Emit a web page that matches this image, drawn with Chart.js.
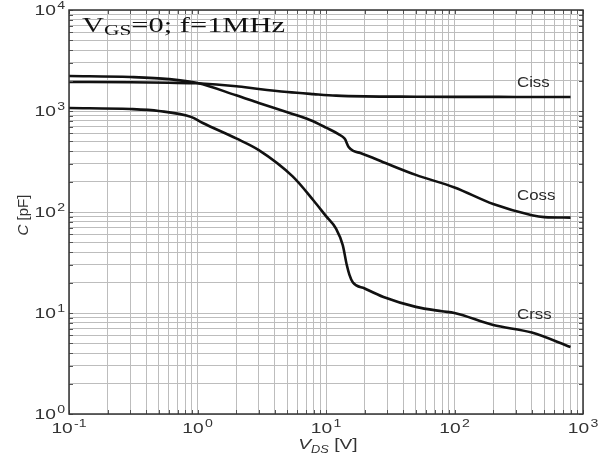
<!DOCTYPE html>
<html>
<head>
<meta charset="utf-8">
<script src="https://cdn.jsdelivr.net/npm/chart.js@4.4.1/dist/chart.umd.min.js"></script>
<style>
  html, body { margin: 0; padding: 0; background: #fff; }
  canvas { display: block; }
</style>
</head>
<body>
<canvas id="capChart" width="599" height="463"></canvas>
<script>
// V_DS sweep points and capacitances (pF)
const vdsCiss = [0.1, 0.3, 0.6, 1, 2, 3, 5, 8, 12, 20, 50, 100, 300, 800];
const ciss = [1940, 1925, 1905, 1880, 1760, 1650, 1540, 1470, 1420, 1395, 1385, 1380, 1378, 1375];

const vdsCoss = [0.1, 0.3, 0.6, 1, 2, 3, 5, 7.5, 10, 12.5, 14, 15, 16.5, 18.5, 30, 50, 100, 200, 400, 500, 800];
const coss = [2220, 2170, 2070, 1890, 1430, 1200, 970, 815, 685, 590, 530, 440, 400, 384, 300, 233, 175, 120, 93, 89, 88];

const vdsCrss = [0.1, 0.3, 0.5, 0.9, 1.1, 2, 3, 5.5, 8, 10, 12, 13.5, 14.5, 15.2, 16.2, 20, 28, 50, 80, 100, 200, 400, 800];
const crss = [1070, 1045, 1000, 870, 760, 535, 410, 225, 130, 91, 68, 47, 30, 24, 20, 17.5, 14.4, 11.5, 10.4, 10, 7.6, 6.4, 4.6];

const xExponents = [-1, 0, 1, 2, 3];
const yExponents = [0, 1, 2, 3, 4];

const curveNames = ["Ciss", "Coss", "Crss"];

const toPoints = (xs, ys) => xs.map((v, i) => ({ x: v, y: ys[i] }));

// 1..9 x 10^k grid, like a MATLAB log grid
function logTicks(exps) {
  const out = [];
  for (let k = exps[0]; k < exps[exps.length - 1]; k++) {
    for (let m = 1; m < 10; m++) out.push({ value: m * Math.pow(10, k) });
  }
  out.push({ value: Math.pow(10, exps[exps.length - 1]) });
  return out;
}

const SX = 1.28; // the scan is stretched sideways a bit

function drawPow(ctx, exp, px, base, align) {
  ctx.font = "15px 'Liberation Sans', Arial, sans-serif";
  const wb = ctx.measureText("10").width;
  ctx.font = "11px 'Liberation Sans', Arial, sans-serif";
  const we = ctx.measureText(String(exp)).width;
  const total = (wb + we + 1) * SX;
  const left = align === "right" ? px - total : px - total / 2;
  ctx.save();
  ctx.translate(left, base);
  ctx.scale(SX, 1);
  ctx.textAlign = "left";
  ctx.textBaseline = "alphabetic";
  ctx.font = "15px 'Liberation Sans', Arial, sans-serif";
  ctx.fillText("10", 0, 0);
  ctx.font = "11px 'Liberation Sans', Arial, sans-serif";
  ctx.fillText(String(exp), wb + 1, -6);
  ctx.restore();
}

function drawRuns(ctx, runs, x, base, sx) {
  // runs: [text, font, dy]
  ctx.save();
  ctx.translate(x, base);
  ctx.scale(sx, 1);
  ctx.textAlign = "left";
  ctx.textBaseline = "alphabetic";
  let cx = 0;
  runs.forEach(([t, f, dy]) => {
    ctx.font = f;
    ctx.fillText(t, cx, dy);
    cx += ctx.measureText(t).width;
  });
  ctx.restore();
}

function runsWidth(ctx, runs) {
  let w = 0;
  runs.forEach(([t, f]) => { ctx.font = f; w += ctx.measureText(t).width; });
  return w;
}

const overlay = {
  id: "overlay",
  afterDraw(chart) {
    const { ctx, chartArea: a, scales: { x, y } } = chart;
    ctx.save();

    // inward tick marks on all four sides
    ctx.strokeStyle = "#555";
    ctx.lineWidth = 1;
    ctx.beginPath();
    x.ticks.forEach(t => {
      const px = Math.round(x.getPixelForValue(t.value)) + 0.5;
      ctx.moveTo(px, a.bottom); ctx.lineTo(px, a.bottom - 4);
      ctx.moveTo(px, a.top); ctx.lineTo(px, a.top + 4);
    });
    y.ticks.forEach(t => {
      const py = Math.round(y.getPixelForValue(t.value)) + 0.5;
      ctx.moveTo(a.left, py); ctx.lineTo(a.left + 4, py);
      ctx.moveTo(a.right, py); ctx.lineTo(a.right - 4, py);
    });
    ctx.stroke();

    // frame
    ctx.strokeStyle = "#333";
    ctx.lineWidth = 1.5;
    ctx.strokeRect(a.left, a.top, a.right - a.left, a.bottom - a.top);

    // tick labels
    ctx.fillStyle = "#333";
    xExponents.forEach(e => {
      drawPow(ctx, e, x.getPixelForValue(Math.pow(10, e)), a.bottom + 19, "center");
    });
    yExponents.forEach(e => {
      drawPow(ctx, e, a.left - 4, y.getPixelForValue(Math.pow(10, e)) + 5, "right");
    });

    // axis titles
    const xt = [
      ["V", "italic 15px 'Liberation Sans', Arial, sans-serif", 0],
      ["DS", "italic 10px 'Liberation Sans', Arial, sans-serif", 4],
      [" [V]", "15px 'Liberation Sans', Arial, sans-serif", 0]
    ];
    const xtw = runsWidth(ctx, xt) * SX;
    drawRuns(ctx, xt, (a.left + a.right) / 2 - xtw / 2 + 2, a.bottom + 35, SX);

    ctx.save();
    ctx.translate(28, (a.top + a.bottom) / 2 + 3);
    ctx.rotate(-Math.PI / 2);
    const yt = [
      ["C", "italic 15px 'Liberation Sans', Arial, sans-serif", 0],
      [" [pF]", "15px 'Liberation Sans', Arial, sans-serif", 0]
    ];
    const ytw = runsWidth(ctx, yt);
    drawRuns(ctx, yt, -ytw / 2, 0, 1);
    ctx.restore();

    // curve names
    ctx.fillStyle = "#2a2a2a";
    const nameBase = [a.top + 77, a.top + 190, a.top + 309];
    curveNames.forEach((n, i) => {
      drawRuns(ctx, [[n, "14px 'Liberation Sans', Arial, sans-serif", 0]], a.left + 448, nameBase[i], 1.2);
    });

    // test condition
    ctx.fillStyle = "#111";
    const cond = [
      ["V", "20px 'Liberation Serif', 'Times New Roman', serif", 0],
      ["GS", "14px 'Liberation Serif', 'Times New Roman', serif", 3],
      ["=0; f=1MHz", "20px 'Liberation Serif', 'Times New Roman', serif", 0]
    ];
    const cw = runsWidth(ctx, cond);
    drawRuns(ctx, cond, a.left + 13, a.top + 22, 203 / cw);

    ctx.restore();
  }
};

const lineStyle = {
  borderColor: "#111",
  borderWidth: 2.6,
  pointRadius: 0,
  fill: false,
  tension: 0.35,
  cubicInterpolationMode: "monotone"
};

const gridOpts = {
  color: "#bdbdbd",
  lineWidth: 1,
  drawTicks: false
};

new Chart(document.getElementById("capChart"), {
  type: "line",
  data: {
    datasets: [
      { label: "Ciss", data: toPoints(vdsCiss, ciss), ...lineStyle },
      { label: "Coss", data: toPoints(vdsCoss, coss), ...lineStyle },
      { label: "Crss", data: toPoints(vdsCrss, crss), ...lineStyle }
    ]
  },
  options: {
    responsive: false,
    animation: false,
    layout: { padding: { left: 69, right: 16, top: 10, bottom: 49 } },
    plugins: {
      legend: { display: false },
      tooltip: { enabled: false }
    },
    scales: {
      x: {
        type: "logarithmic",
        min: 0.1,
        max: 1000,
        afterBuildTicks: s => { s.ticks = logTicks(xExponents); },
        ticks: { display: false, autoSkip: false },
        grid: gridOpts,
        border: { display: false }
      },
      y: {
        type: "logarithmic",
        min: 1,
        max: 10000,
        afterBuildTicks: s => { s.ticks = logTicks(yExponents); },
        ticks: { display: false, autoSkip: false },
        grid: gridOpts,
        border: { display: false }
      }
    }
  },
  plugins: [overlay]
});
</script>
</body>
</html>
